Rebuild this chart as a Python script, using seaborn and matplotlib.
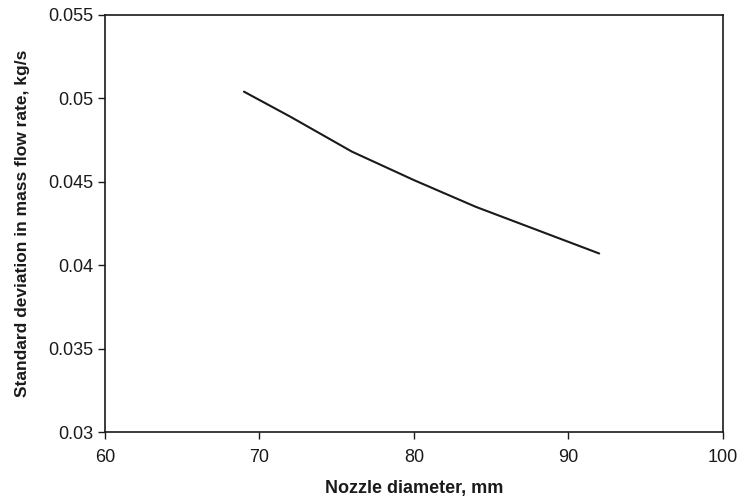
import numpy as np
import pandas as pd
import seaborn as sns
import matplotlib.pyplot as plt

nozzle_diameter = [69, 72, 76, 80, 84, 88, 92]
std_mass_flow = [0.0504, 0.0489, 0.0468, 0.0451, 0.0435, 0.0421, 0.0407]

df = pd.DataFrame({'nozzle': nozzle_diameter, 'std': std_mass_flow})

sns.set_style('white')
plt.rcParams['font.family'] = ['Liberation Sans', 'DejaVu Sans']

fig = plt.figure(figsize=(7.39, 4.96), dpi=100)
ax = fig.add_axes([0.142, 0.129, 0.836, 0.841])

sns.lineplot(x='nozzle', y='std', data=df, ax=ax, color='#1a1a1a', linewidth=1.5)

ax.set_xlim(60, 100)
ax.set_ylim(0.03, 0.055)
ax.set_xticks([60, 70, 80, 90, 100])
ax.set_yticks([0.03, 0.035, 0.04, 0.045, 0.05, 0.055])
ax.set_yticklabels(['0.03', '0.035', '0.04', '0.045', '0.05', '0.055'])
ax.tick_params(axis='both', direction='out', length=5, width=1, labelsize=13, colors='#1a1a1a',
               bottom=True, left=True)
ax.tick_params(axis='x', pad=7)
for s in ax.spines.values():
    s.set_color('#1a1a1a')
    s.set_linewidth(1.2)

ax.set_xlabel('Nozzle diameter, mm', fontsize=13, fontweight='bold', color='#1a1a1a', labelpad=10)
ax.set_ylabel('Standard deviation in mass flow rate, kg/s', fontsize=12.5, fontweight='bold',
              color='#1a1a1a', labelpad=13)

plt.savefig('out.png', dpi=100)
